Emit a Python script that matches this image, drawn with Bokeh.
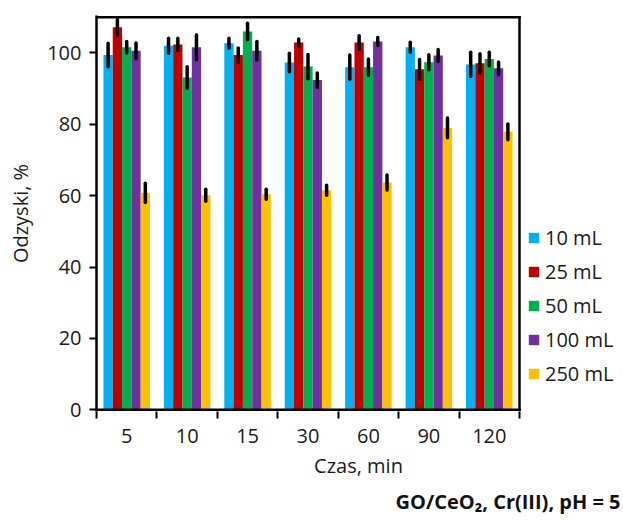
import numpy as np
from bokeh.plotting import figure
from bokeh.models import (ColumnDataSource, FixedTicker, Legend, LegendItem, Title, Range1d)
from bokeh.embed import file_html
from bokeh.resources import INLINE

categories = ["5", "10", "15", "30", "60", "90", "120"]
series_names = ["10 mL", "25 mL", "50 mL", "100 mL", "250 mL"]
colors = ["#00B0F0", "#C00000", "#00B050", "#7030A0", "#FFC000"]

v10 = [99.4, 102.0, 102.7, 97.3, 96.0, 101.6, 96.8]
v25 = [107.2, 102.4, 99.4, 102.9, 102.9, 95.4, 97.1]
v50 = [101.6, 93.1, 106.0, 96.2, 96.0, 97.4, 98.3]
v100 = [100.6, 101.6, 100.6, 92.4, 103.2, 99.3, 95.7]
v250 = [60.8, 60.1, 60.4, 61.5, 63.7, 79.0, 77.9]

e10 = [3.3, 2.1, 1.4, 2.6, 3.4, 1.4, 3.4]
e25 = [2.2, 1.7, 2.0, 1.0, 1.9, 2.8, 2.7]
e50 = [1.6, 3.0, 2.3, 3.4, 2.3, 2.1, 1.9]
e100 = [2.2, 3.5, 2.6, 2.0, 1.1, 1.7, 1.8]
e250 = [2.7, 1.7, 1.4, 1.4, 2.1, 2.8, 2.2]

values = [v10, v25, v50, v100, v250]
errors = [e10, e25, e50, e100, e250]
y_ticks = [0, 20, 40, 60, 80, 100]
y_max = 110

FONT = "Open Sans"
W, H = 622, 520
BL, BT, BR, BB = 96, 15, 2, 109
n = len(categories)
frame_w = W - BL - BR                 # whole drawing area incl. legend column
chart_w = 423                         # width of the boxed chart area
x_end = n * frame_w / chart_w
pad = 0.5

p = figure(width=W, height=H, output_backend="svg", toolbar_location=None,
           x_range=Range1d(0, x_end), y_range=Range1d(-pad, y_max + pad),
           min_border_left=BL, min_border_right=BR, min_border_top=BT, min_border_bottom=BB)
p.grid.visible = False
p.outline_line_color = None

bw = 0.154
centers = np.arange(n) + 0.5
renderers = []
for j, (vals, col) in enumerate(zip(values, colors)):
    xs = centers + (j - 2) * bw
    src = ColumnDataSource(dict(x=xs, top=np.array(vals)))
    r = p.vbar(x="x", top="top", width=bw, bottom=0, source=src, fill_color=col, line_color=None)
    renderers.append(r)
for j, (vals, errs) in enumerate(zip(values, errors)):
    xs = centers + (j - 2) * bw
    vals = np.array(vals)
    errs = np.array(errs)
    src = ColumnDataSource(dict(x=xs, lo=vals - errs, hi=vals + errs))
    p.segment(x0="x", x1="x", y0="lo", y1="hi", source=src, line_color="black",
              line_width=3.5, line_cap="round")

# chart box (bottom, top, right edges)
box = ColumnDataSource(dict(x0=[0, 0, n], y0=[0, y_max, 0], x1=[n, n, n], y1=[0, y_max, y_max]))
p.segment(x0="x0", y0="y0", x1="x1", y1="y1", source=box, line_color="black", line_width=2.5,
          line_cap="square")

# x axis
xa = p.xaxis[0]
xa.ticker = FixedTicker(ticks=list(centers), minor_ticks=list(range(n + 1)))
xa.major_label_overrides = {float(c): lab for c, lab in zip(centers, categories)}
xa.major_tick_out = 0
xa.major_tick_in = 0
xa.minor_tick_out = 7
xa.minor_tick_in = 0
xa.minor_tick_line_color = "black"
xa.minor_tick_line_width = 2
xa.axis_line_color = None
xa.axis_label = "Czas, min"
xa.major_label_standoff = 10
xa.axis_label_standoff = 6

ya = p.yaxis[0]
ya.ticker = FixedTicker(ticks=y_ticks, minor_ticks=[])
ya.major_tick_out = 7
ya.major_tick_in = 0
ya.major_tick_line_width = 2
ya.axis_line_width = 2.5
ya.axis_label = "Odzyski, %"
ya.major_label_standoff = 8
ya.axis_label_standoff = 10

for ax in (xa, ya):
    ax.major_label_text_font = FONT
    ax.major_label_text_font_size = "20px"
    ax.major_label_text_color = "#1a1a1a"
    ax.axis_label_text_font = FONT
    ax.axis_label_text_font_size = "20px"
    ax.axis_label_text_font_style = "normal"
    ax.axis_label_text_color = "#1a1a1a"

legend = Legend(items=[LegendItem(label=s, renderers=[r]) for s, r in zip(series_names, renderers)],
                location=(chart_w + 8, 24), orientation="vertical",
                label_text_font=FONT, label_text_font_size="20px", label_text_color="#1a1a1a",
                glyph_width=13, glyph_height=13, label_height=20, spacing=7,
                padding=0, margin=0, border_line_color=None, background_fill_alpha=0,
                label_standoff=5)
p.add_layout(legend, "center")

note = Title(text="GO/CeO\u2082, Cr(III), pH = 5", align="right",
             text_font=FONT, text_font_size="20px", text_font_style="bold", text_color="#111111",
             standoff=8)
p.add_layout(note, "below")

open("out.html", "w").write(file_html(p, INLINE))
